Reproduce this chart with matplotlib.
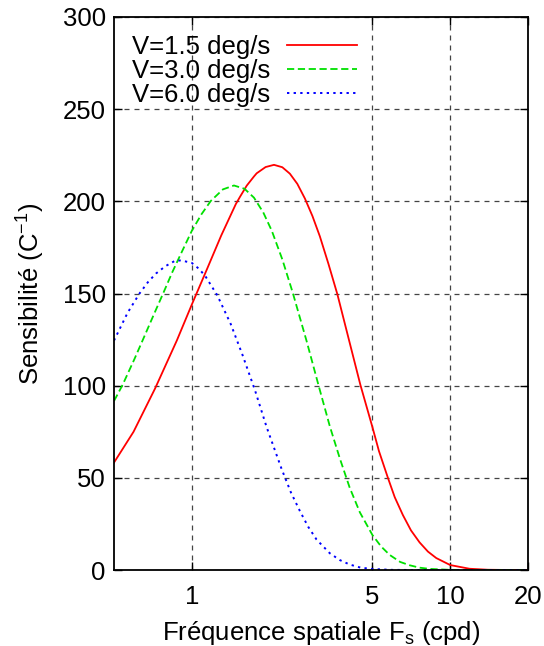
import matplotlib
matplotlib.use('Agg')
import matplotlib.pyplot as plt
from matplotlib.ticker import FixedLocator, FixedFormatter, NullLocator

plt.rcParams['font.family'] = ['Liberation Sans', 'DejaVu Sans']
plt.rcParams['mathtext.default'] = 'regular'

# values
x_red = [0.5, 0.595, 0.721, 0.875, 1.0, 1.143, 1.3, 1.48, 1.537, 1.631,
         1.74, 1.782, 1.93, 2.08, 2.24, 2.396, 2.56, 2.74, 2.93, 3.13,
         3.38, 3.66, 4.02, 4.49, 5.0, 5.3, 5.74, 6.1, 6.56, 7.05, 7.61,
         8.2, 8.83, 10.0, 11.87, 14.0, 17.0, 20.0]
y_red = [58.3, 75, 98.5, 124.5, 144, 163, 181.5, 198.5, 202.5, 208.5,
         213.5, 215.2, 218.6, 219.8, 218.5, 215, 209.5, 201.5, 192, 181,
         166, 149.5, 127, 100.5, 77.5, 64.5, 50, 39.5, 29.8, 21.5, 15,
         10, 6.5, 2.7, 0.7, 0.15, 0.02, 0.0]
x_green = [0.5, 0.54, 0.6, 0.654, 0.715, 0.777, 0.84, 0.907, 1.0, 1.09,
           1.184, 1.32, 1.456, 1.6, 1.74, 1.89, 2.04, 2.24, 2.455, 2.78,
           3.1, 3.42, 3.74, 4.08, 4.47, 5.0, 5.4, 5.83, 6.4, 6.96, 7.6,
           8.33, 10.0, 13.0, 20.0]
y_green = [91.7, 100.5, 114.5, 126.5, 139, 150.5, 161.5, 171.5, 184, 193,
           200.2, 206.5, 208.6, 206.8, 202, 194, 184, 168.5, 150.7, 124.3,
           99.7, 78, 60.5, 44.8, 31.3, 19, 12.8, 8.2, 4.4, 2.6, 1.3,
           0.6, 0.1, 0.02, 0.0]
x_blue = [0.5, 0.564, 0.626, 0.675, 0.726, 0.79, 0.855, 0.907, 1.0, 1.07,
          1.133, 1.255, 1.414, 1.568, 1.756, 1.948, 2.226, 2.42, 2.62, 2.82,
          3.04, 3.42, 3.74, 4.08, 4.5, 5.0, 6.0, 8.0, 20.0]
y_blue = [124.5, 139.5, 149.8, 156, 160.8, 164.8, 167.5, 168, 166.6, 163.2,
          159, 149, 133.5, 117, 97.5, 77.5, 54.8, 42, 32, 23.5,
          16.5, 9.1, 5.4, 3.0, 1.3, 0.55, 0.08, 0.0, 0.0]

labels = ['V=1.5 deg/s', 'V=3.0 deg/s', 'V=6.0 deg/s']
x_ticks = [1, 5, 10, 20]
y_ticks = [0, 50, 100, 150, 200, 250, 300]

fs = 18.5
fig = plt.figure(figsize=(5.44, 6.46), dpi=100)
ax = fig.add_axes([0.2096, 0.1176, 0.7610, 0.8561])

ax.plot(x_red, y_red, color='#ff0000', linestyle='solid', linewidth=1.3, label=labels[0])
ax.plot(x_green, y_green, color='#00e000', linestyle=(0, (4, 2)), linewidth=1.3, label=labels[1])
ax.plot(x_blue, y_blue, color='#0000ff', linestyle=(0, (1.2, 2.2)), linewidth=1.4, label=labels[2])

ax.set_xscale('log')
ax.set_xlim(0.5, 20)
ax.set_ylim(0, 300)
ax.xaxis.set_major_locator(FixedLocator(x_ticks))
ax.xaxis.set_major_formatter(FixedFormatter([str(t) for t in x_ticks]))
ax.xaxis.set_minor_locator(NullLocator())
ax.set_yticks(y_ticks)

ax.tick_params(direction='in', top=True, right=True, length=6, width=1,
               labelsize=fs)
ax.tick_params(axis='x', pad=11)
ax.tick_params(axis='y', pad=6)
ax.grid(True, color='#444444', linestyle=(0, (4, 4)), linewidth=0.9)
for s in ax.spines.values():
    s.set_linewidth(1.3)

ax.set_xlabel(r'Fréquence spatiale F$_s$ (cpd)', fontsize=fs, labelpad=7)
ax.set_ylabel(r'Sensibilité (C$^{-1}$)', fontsize=fs, labelpad=11.5)

leg = ax.legend(loc='upper left', frameon=False, markerfirst=False, fontsize=fs,
                handlelength=2.72, handletextpad=0.66, labelspacing=0.0,
                borderaxespad=0.3)

fig.savefig('out.png', dpi=100)
